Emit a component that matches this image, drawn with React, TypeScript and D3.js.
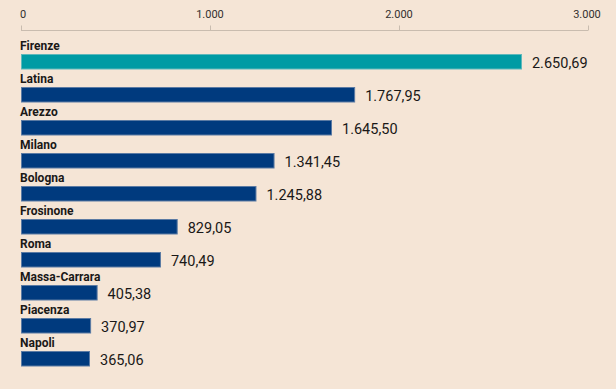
import React from 'react';
import * as d3 from 'd3';

const cities = ['Firenze', 'Latina', 'Arezzo', 'Milano', 'Bologna', 'Frosinone', 'Roma', 'Massa-Carrara', 'Piacenza', 'Napoli'];
const values = [2650.69, 1767.95, 1645.5, 1341.45, 1245.88, 829.05, 740.49, 405.38, 370.97, 365.06];
const ticks = [0, 1000, 2000, 3000];
const highlight = 'Firenze';

const fmtNum = (v: number, dec: number) =>
  v.toFixed(dec).replace('.', '#').replace(/\B(?=(\d{3})+(?!\d))/g, '.').replace('#', ',');

export default function App() {
  const width = 616, height = 389;
  const x = d3.scaleLinear().domain([0, 3000]).range([21, 588]);
  const y = d3.scaleBand().domain(cities).range([54, 384]).paddingInner(0);
  const barH = 15.5;

  return (
    <svg width={width} height={height} style={{ position: 'absolute', left: 0, top: 0, background: '#f5e5d6' }}>
      <rect width={width} height={height} fill="#f5e5d6" />
      <line x1={x(0)} x2={x(3000)} y1={30.5} y2={30.5} stroke="#c9bcaf" />
      {ticks.map(t => (
        <g key={t}>
          <line x1={x(t) + 0.5} x2={x(t) + 0.5} y1={25.5} y2={30.5} stroke="#c9bcaf" />
          <text x={x(t)} y={18} textAnchor={t === 0 ? 'start' : 'middle'} dx={t === 0 ? -1 : t === 3000 ? -1 : 0}
            fontFamily="Roboto, sans-serif" fontSize={11} fill="#33302e">{fmtNum(t, 0)}</text>
        </g>
      ))}
      {cities.map((c, i) => {
        const top = y(c)!;
        const isH = c === highlight;
        return (
          <g key={c}>
            <text x={20} y={top - 4} fontFamily="Roboto, sans-serif" fontWeight="bold" fontSize={12} fill="#1a1817">{c}</text>
            <rect x={x(0) + 0.5} y={top + 0.5} width={x(values[i]) - x(0) - 1} height={barH - 1}
              fill={isH ? '#009ba4' : '#003a7e'} stroke={isH ? '#5fb8bb' : '#5b7aa3'} strokeWidth={1} />
            <text x={x(values[i]) + 10} y={top + 13.5} fontFamily="Roboto, sans-serif" fontSize={14.5} fill="#1a1817">{fmtNum(values[i], 2)}</text>
          </g>
        );
      })}
    </svg>
  );
}
